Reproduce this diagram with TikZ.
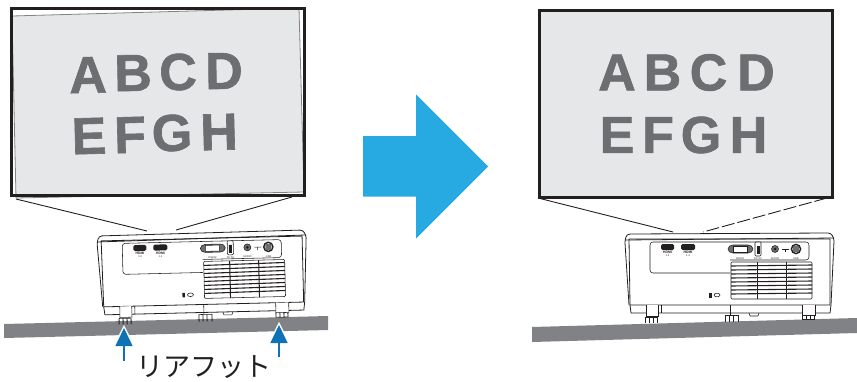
\documentclass[tikz,border=0pt]{standalone}
\usepackage{fontspec}
\setmainfont{Liberation Sans}
\newfontfamily\jpfont{Noto Sans CJK JP}
\newfontfamily\letterfont[FakeBold=1.2]{Liberation Sans Bold}
\usetikzlibrary{arrows.meta}
\definecolor{inkblack}{HTML}{231F20}
\definecolor{screengray}{HTML}{E6E7E8}
\definecolor{lettergray}{HTML}{6D6E71}
\definecolor{floorgray}{HTML}{808285}
\definecolor{bigcyan}{HTML}{27AAE1}
\definecolor{footblue}{HTML}{0F72B5}
\tikzset{
  projector/.pic={
    % body and top cover
    \draw[body] (4,72) -- (0,10) to[out=90,in=180] (5,1) -- (203,0) to[out=0,in=95] (209,8) -- (206,72);
    \draw[body] (0,7) -- (209,5);
    \draw[body] (4,6) -- (5,72) -- (205,72) -- (205,6) -- cycle;
    \draw[body] (5,72) -- (6,80) -- (205,80) -- (206,72);
    % connector panel
    \draw[thin line,rounded corners=3pt] (105,40) -- (25,40) -- (25,9) -- (184,9) -- (184,27) -- (105,27);
    \fill[inkblack,rounded corners=1.5pt] (36,11) rectangle (49,17);
    \fill[inkblack,rounded corners=1.5pt] (56,11) rectangle (70,17);
    \node[porttext,font=\fontsize{3.4}{4}\selectfont\bfseries] (hdmia) at (42.5,19.5) {HDMI};
    \node[porttext,font=\fontsize{3.4}{4}\selectfont\bfseries] (hdmib) at (63,19.5) {HDMI};
    \node[porttext] (hdmiav) at (42.5,23) {1.4};
    \node[porttext] (hdmibv) at (63,23) {1.4};
    \draw[thin line,fill=lettergray] (103,16) to[out=90,in=180] (108,12) -- (123,12) to[out=0,in=90] (128,16) to[out=-90,in=0] (123,20) -- (108,20) to[out=180,in=-90] cycle;
    \draw[fill=white,thin line] (108,13) rectangle (122,19);
    \draw[thin line,fill=white,rounded corners=1pt] (130,9) rectangle (136,23);
    \fill[inkblack] (131.5,13) rectangle (134.5,21);
    \draw[fill=lettergray,thin line] (150,16) circle (3.5);
    \fill[inkblack] (150,16) circle (1.5);
    \draw[thin line] (157,16) -- (164,16);
    \draw[thin line] (160,16) -- (160,19);
    \draw[line width=1.4pt,inkblack] (171,16) circle (4.6);
    \fill[lettergray] (168,13) rectangle (174,19);
    \node[porttext] (rstext) at (115,25.5) {RS232};
    \node[porttext] (dctext) at (133,25.5) {DC 5V};
    \node[porttext] (audiotext) at (150,25.5) {AUDIO};
    \node[porttext] (usbtext) at (171,25.5) {USB};
    % vent
    \draw[thin line,rounded corners=1pt] (106,29) rectangle (187,66);
    \foreach \slat in {33,37,41,45,49,53,57,61} {
      \draw[thin line,line width=1.1pt] (106,\slat) -- (187,\slat-1);
    }
    \draw[thin line,line width=1pt] (132,29) -- (132,66);
    \draw[thin line,line width=1pt] (161,29) -- (161,66);
    % lock
    \fill[inkblack] (84,60) rectangle (86.5,64.5);
    \draw[thin line] (92,62) ellipse (3 and 1.8);
    % feet
    \draw[thin line,fill=white] (21,72) -- (21,83) -- (33,83) -- (33,72);
    \draw[thin line] (36,72) -- (36,80);
    \foreach \pad in {20,24,28,32} {\draw[thin line,line width=0.9pt] (\pad,84) -- (\pad,90);}
    \draw[thin line] (20,84) -- (32,84);
    \draw[thin line] (105,72) -- (105,82);
    \foreach \pad in {100,104,108,113} {\draw[thin line,line width=0.9pt] (\pad,82) -- (\pad,89);}
    \draw[thin line] (100,82) -- (113,82);
    \draw[thin line] (124,80) -- (125,83) -- (133,83) -- (134,80);
    \draw[thin line,fill=white] (177,72) -- (177,82) -- (190,82) -- (190,72);
    \foreach \pad in {177,181,185,189} {\draw[thin line,line width=0.9pt] (\pad,82) -- (\pad,87);}
    \draw[thin line] (177,86.5) -- (189,86.5);
  }
}
\begin{document}
\begin{tikzpicture}[
  x=1pt,y=-1pt,
  frame/.style={draw=inkblack,line width=3pt,fill=none},
  tiltedge/.style={draw=floorgray,line width=0.8pt,fill=screengray},
  letter/.style={font=\letterfont\fontsize{52}{52}\selectfont,text=lettergray,inner sep=0pt},
  beam/.style={draw=inkblack,line width=0.9pt},
  body/.style={draw=inkblack,line width=0.8pt},
  thin line/.style={draw=inkblack,line width=0.55pt},
  porttext/.style={font=\fontsize{2.6}{3}\selectfont,text=inkblack,inner sep=0pt,transform shape},
  floor/.style={fill=floorgray},
  footarrow/.style={-{Triangle[length=18pt,width=17pt]},line width=1.4pt,footblue},
  halo/.style={-{Triangle[length=22pt,width=22pt]},line width=0.1pt,white},
]
\useasboundingbox (0,0) rectangle (857,381);

% ==== LEFT SCREEN (tilted image) ====
\path[tiltedge] (12,16) -- (299,8) -- (304,192) -- (16,198) -- cycle;
\node[letter,rotate=1] (la) at (88,75) {A};
\node[letter,rotate=1] (lb) at (133,73) {B};
\node[letter,rotate=1] (lc) at (178,72) {C};
\node[letter,rotate=0.5] (ld) at (224,71) {D};
\node[letter,rotate=1.5] (le) at (89,136) {E};
\node[letter,rotate=1.5] (lf) at (130,135) {F};
\node[letter,rotate=1.5] (lg) at (172,133) {G};
\node[letter,rotate=1.5] (lh) at (219,132) {H};
\node[frame,minimum width=293.5pt,minimum height=187pt,inner sep=0pt] (lscreen) at (158.2,101.5) {};

% ==== RIGHT SCREEN ====
\node[frame,fill=screengray,minimum width=293.5pt,minimum height=187pt,inner sep=0pt] (rscreen) at (686.2,103.5) {};
\node[letter] (ra) at (617,72.5) {A};
\node[letter] (rb) at (662.5,72.5) {B};
\node[letter] (rc) at (708.5,72.5) {C};
\node[letter] (rd) at (756,72.5) {D};
\node[letter] (re) at (617,135) {E};
\node[letter] (rf) at (658,135) {F};
\node[letter] (rg) at (701,135) {G};
\node[letter] (rh) at (748.5,135) {H};

% ==== ARROW ====
\fill[bigcyan] (363,136) -- (416,136) -- (416,94.5) -- (488,166.5) -- (416,238.5) -- (416,196.5) -- (363,196.5) -- cycle;

% ==== FLOORS ====
\fill[floor] (4,324) -- (328,316) -- (328,330) -- (4,338) -- cycle;
\fill[floor] (532,327) -- (857,318) -- (857,333) -- (532,342) -- cycle;

% ==== PROJECTORS ====
\pic (lproj) [rotate=1.38] at (97,235) {projector};
\pic (rproj) at (625,233) {projector};

% beams
\coordinate (lbeamtop) at (147,231);
\coordinate (rbeamtop) at (176,230);
\coordinate (lbeamleft) at (16,199);
\coordinate (lbeamright) at (292,197);
\draw[beam] (lbeamleft) -- (lbeamtop);
\draw[beam] (lbeamright) -- (rbeamtop);
\coordinate (rbeamleft) at (538,198);
\coordinate (rbeamright) at (827,198);
\coordinate (rbeamapex) at (673,232);
\coordinate (rbeamdash) at (703,232);
\draw[beam] (rbeamleft) -- (rbeamapex);
\draw[beam,dash pattern=on 13pt off 3pt] (rbeamright) -- (rbeamdash);

% rear foot arrows
\coordinate (lfootbase) at (124,361);
\coordinate (lfoottip) at (124,328);
\coordinate (rfootbase) at (279,357);
\coordinate (rfoottip) at (279,325);
\draw[halo] (lfootbase) -- (124,325);
\draw[halo] (rfootbase) -- (279,322);
\draw[footarrow] (lfootbase) -- (lfoottip);
\draw[footarrow] (rfootbase) -- (rfoottip);

\node[font=\jpfont\fontsize{27}{27}\selectfont,text=inkblack,inner sep=0pt] (rearlabel) at (203.5,367) {リアフット};

\end{tikzpicture}
\end{document}
